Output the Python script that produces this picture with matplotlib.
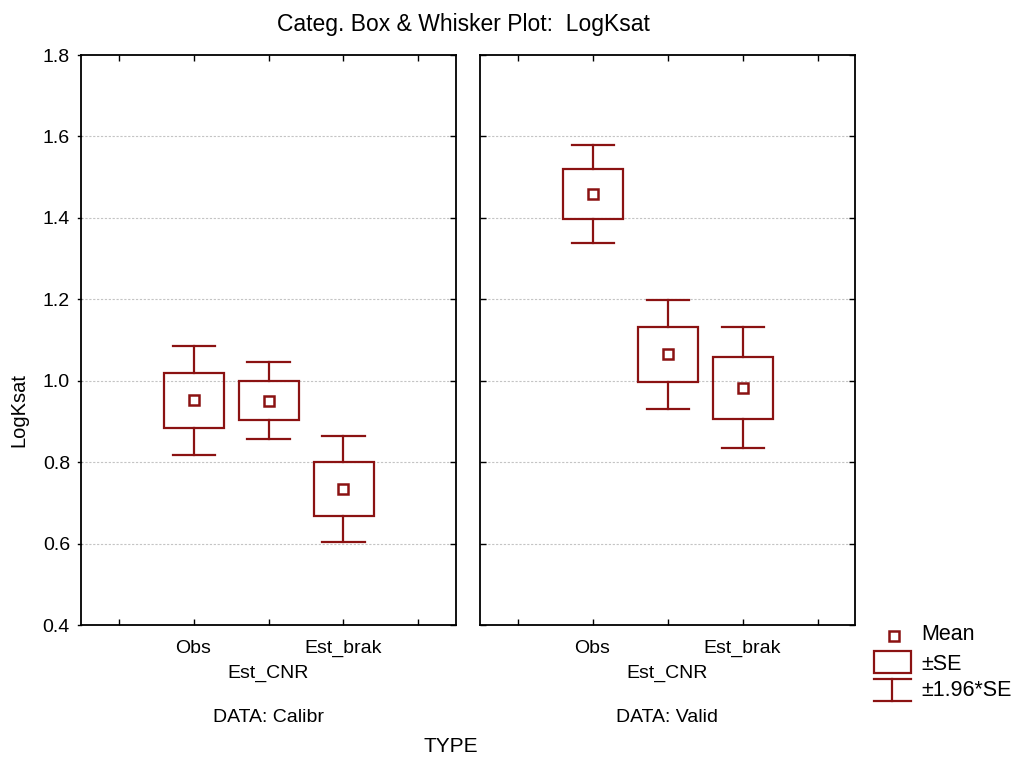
import numpy as np
import matplotlib
matplotlib.use('Agg')
import matplotlib.pyplot as plt
from matplotlib.patches import Rectangle

plt.rcParams['font.family'] = ['Liberation Sans', 'DejaVu Sans']

# === DATA === #
types = ['Obs', 'Est_CNR', 'Est_brak']
panels = ['DATA: Calibr', 'DATA: Valid']
calibr_mean = [0.952, 0.951, 0.734]
calibr_se = [0.068, 0.0485, 0.066]
valid_mean = [1.459, 1.065, 0.983]
valid_se = [0.061, 0.068, 0.076]
yticks = [0.4, 0.6, 0.8, 1.0, 1.2, 1.4, 1.6, 1.8]

RED = '#8b1212'
LW = 1.6
FS = 14


def draw_panel(ax, means, ses):
    pos = np.arange(1, len(means) + 1)
    for x, m, s in zip(pos, means, ses):
        w = 1.96 * s
        # whiskers
        ax.plot([x, x], [m + s, m + w], color=RED, lw=LW, zorder=3)
        ax.plot([x, x], [m - s, m - w], color=RED, lw=LW, zorder=3)
        ax.plot([x - 0.28, x + 0.28], [m + w, m + w], color=RED, lw=LW, zorder=3)
        ax.plot([x - 0.28, x + 0.28], [m - w, m - w], color=RED, lw=LW, zorder=3)
        # box
        ax.add_patch(Rectangle((x - 0.4, m - s), 0.8, 2 * s, fill=False,
                               edgecolor=RED, lw=LW, zorder=3))
        ax.plot([x], [m], marker='s', ms=6.8, mfc='white', mec=RED, mew=1.8, zorder=4)

    ax.set_xlim(-0.5, 4.5)
    ax.set_ylim(0.4, 1.8)
    ax.set_xticks(range(5))
    ax.set_xticklabels([])
    ax.set_yticks(yticks)
    for y in yticks[1:-1]:
        ax.axhline(y, color='#c4c4c4', lw=0.8, ls=(0, (2, 1.5)), zorder=1)
    ax.tick_params(axis='x', direction='in', top=True, bottom=True, length=4, width=1)
    ax.tick_params(axis='y', direction='in', left=True, right=True, length=4, width=1)
    for sp in ax.spines.values():
        sp.set_linewidth(1.3)
    # staggered category labels
    for i, (x, lab) in enumerate(zip(pos, types)):
        off = -0.0405 if i % 2 == 0 else -0.0845
        ax.text(x, off, lab, transform=ax.get_xaxis_transform(), ha='center',
                va='center', fontsize=FS)


def plot_chart():
    fig = plt.figure(figsize=(10.18, 7.6), dpi=100)
    W, H = 1018.0, 760.0
    ax1 = fig.add_axes([81 / W, 1 - 625 / H, 375 / W, 570 / H])
    ax2 = fig.add_axes([480 / W, 1 - 625 / H, 375 / W, 570 / H])

    draw_panel(ax1, calibr_mean, calibr_se)
    draw_panel(ax2, valid_mean, valid_se)

    ax1.tick_params(axis='y', which='both', labelsize=FS, left=False, pad=8)
    ax1.set_yticklabels(['%.1f' % v for v in yticks])
    for y in yticks:
        ax1.plot([-0.5 - 0.045, -0.5], [y, y], color='black', lw=1, clip_on=False)
    ax2.set_yticklabels([])

    ax1.text(0.5, -0.163, panels[0], transform=ax1.transAxes, ha='center', va='center', fontsize=FS)
    ax2.text(0.5, -0.163, panels[1], transform=ax2.transAxes, ha='center', va='center', fontsize=FS)

    fig.text(463 / W, 1 - 25 / H, 'Categ. Box & Whisker Plot:  LogKsat', ha='center',
             va='center', fontsize=16.5)
    fig.text(19 / W, 1 - 410 / H, 'LogKsat', rotation=90, ha='center', va='center', fontsize=14.5)
    fig.text(451 / W, 1 - 746 / H, 'TYPE', ha='center', va='center', fontsize=15)

    # legend drawn in pixel coords
    lg = fig.add_axes([0, 0, 1, 1], facecolor='none')
    lg.set_xlim(0, W)
    lg.set_ylim(H, 0)
    lg.axis('off')
    lg.plot([894.5], [635.5], marker='s', ms=6.8, mfc='white', mec=RED, mew=1.8)
    lg.add_patch(Rectangle((874, 651), 37, 22, fill=False, edgecolor=RED, lw=LW))
    lg.plot([874, 911], [679, 679], color=RED, lw=LW)
    lg.plot([874, 911], [701, 701], color=RED, lw=LW)
    lg.plot([892.5, 892.5], [679, 701], color=RED, lw=LW)
    lg.text(921, 635, 'Mean', va='center', fontsize=15.5)
    lg.text(921, 664, '\u00b1SE', va='center', fontsize=15.5)
    lg.text(921, 691, '\u00b11.96*SE', va='center', fontsize=15.5)

    fig.savefig('out.png', dpi=100)


def main():
    plot_chart()


if __name__ == '__main__': main()
